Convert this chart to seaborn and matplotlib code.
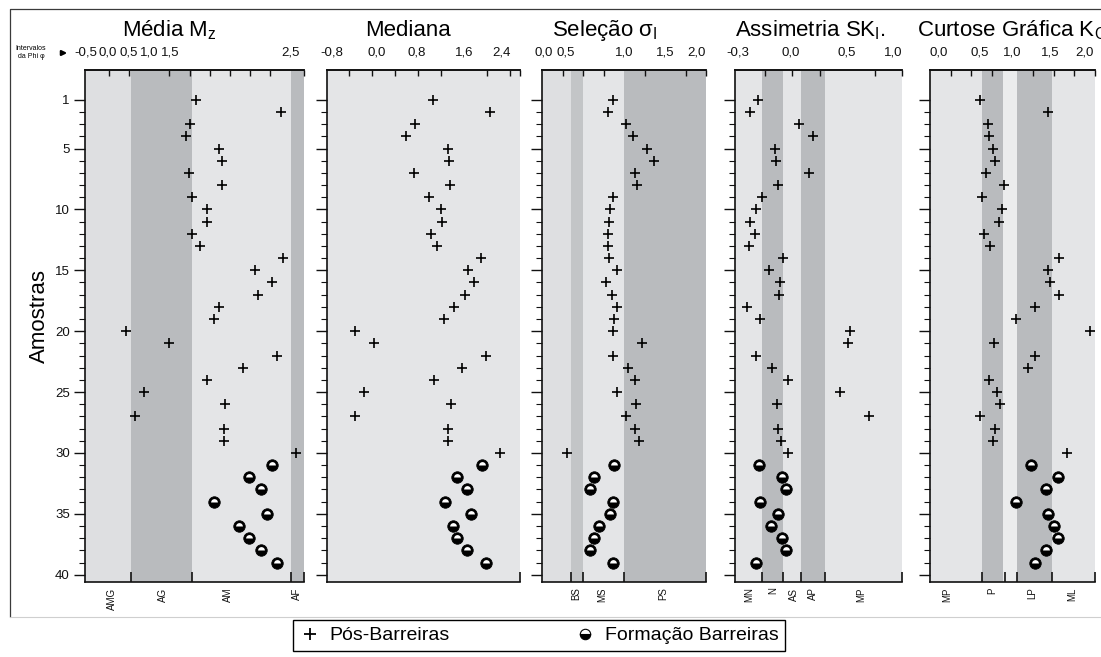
import matplotlib
matplotlib.use('Agg')
import matplotlib.pyplot as plt
from matplotlib.markers import MarkerStyle
from matplotlib.lines import Line2D
from matplotlib.patches import FancyArrowPatch
import seaborn as sns

# Sample numbers (y axis)
amostras_pos = list(range(1, 31))    # Pós-Barreiras
amostras_form = list(range(31, 40))  # Formação Barreiras

# Values, one list per panel
media_pos = [2.15, 4.27, 2.00, 1.90, 2.72, 2.80, 1.99, 2.79, 2.05, 2.43,
             2.43, 2.07, 2.25, 4.30, 3.62, 4.05, 3.70, 2.72, 2.60, 0.42,
             1.50, 4.17, 3.32, 2.43, 0.86, 2.88, 0.64, 2.84, 2.84, 4.62]
media_form = [4.03, 3.48, 3.77, 2.60, 3.91, 3.21, 3.48, 3.77, 4.16]

mediana_pos = [1.06, 2.05, 0.75, 0.60, 1.32, 1.35, 0.74, 1.36, 0.99, 1.20,
               1.22, 1.03, 1.13, 1.90, 1.67, 1.78, 1.62, 1.43, 1.26, -0.30,
               0.04, 1.99, 1.57, 1.08, -0.14, 1.38, -0.29, 1.33, 1.32, 2.24]
mediana_form = [1.91, 1.49, 1.65, 1.28, 1.72, 1.42, 1.49, 1.65, 1.99]

selecao_pos = [0.86, 0.81, 1.02, 1.11, 1.28, 1.36, 1.13, 1.16, 0.86, 0.83,
               0.82, 0.80, 0.80, 0.82, 0.91, 0.78, 0.85, 0.92, 0.88, 0.86,
               1.22, 0.87, 1.05, 1.13, 0.91, 1.15, 1.03, 1.13, 1.18, 0.30]
selecao_form = [0.88, 0.63, 0.59, 0.87, 0.83, 0.69, 0.63, 0.59, 0.87]

assimetria_pos = [-0.31, -0.38, 0.06, 0.19, -0.16, -0.15, 0.15, -0.13, -0.27, -0.33,
                  -0.38, -0.34, -0.39, -0.08, -0.21, -0.11, -0.12, -0.41, -0.29, 0.53,
                  0.51, -0.33, -0.18, -0.04, 0.44, -0.14, 0.70, -0.13, -0.10, -0.04]
assimetria_form = [-0.30, -0.09, -0.06, -0.29, -0.13, -0.19, -0.09, -0.06, -0.33]

curtose_pos = [0.60, 1.43, 0.70, 0.72, 0.76, 0.79, 0.68, 0.90, 0.63, 0.87,
               0.84, 0.66, 0.73, 1.56, 1.43, 1.46, 1.56, 1.27, 1.04, 1.94,
               0.77, 1.27, 1.19, 0.71, 0.81, 0.85, 0.61, 0.79, 0.76, 1.66]
curtose_form = [1.22, 1.55, 1.40, 1.04, 1.43, 1.50, 1.55, 1.40, 1.27]

# Class bands and labels
media_bands = [-0.59, 0.54, 2.05, 4.5, 4.83]
media_classes = ['AMG', 'AG', 'AM', 'AF']
selecao_bands = [0.0, 0.35, 0.5, 1.0, 2.0]
selecao_classes = ['BS', 'MS', 'PS']
assimetria_bands = [-0.52, -0.275, -0.085, 0.085, 0.295, 1.0]
assimetria_classes = ['MN', 'N', 'AS', 'AP', 'MP']
curtose_bands = [0.0, 0.63, 0.89, 1.06, 1.48, 2.0]
curtose_classes = ['MP', 'P', 'M', 'LP', 'ML']

LIGHT = '#e4e5e7'
LIGHT2 = '#dedfe1'
DARK = '#b9bbbe'
MID = '#c3c5c7'
PALE = '#ebeced'

sns.set_theme(style='ticks')
plt.rcParams['font.family'] = ['Liberation Sans', 'DejaVu Sans']
plt.rcParams['mathtext.fontset'] = 'custom'
plt.rcParams['mathtext.rm'] = 'Liberation Sans'
plt.rcParams['mathtext.it'] = 'Liberation Sans:italic'
plt.rcParams['text.color'] = 'black'
plt.rcParams['xtick.color'] = '#111111'
plt.rcParams['ytick.color'] = '#111111'

W, H = 1101, 657
TOP, BOTTOM = 70, 582
fig = plt.figure(figsize=(W / 100, H / 100), dpi=100)
fig.patch.set_facecolor('white')

panels = [
    dict(title=r'Média M$_\mathrm{z}$', tx=0.168, left=85, right=304,
         xlim=(-0.59, 4.83), pos=media_pos, form=media_form,
         bands=media_bands, colors=[LIGHT2, DARK, LIGHT, DARK],
         minor=[0, 0.5, 1, 1.5, 2, 2.5, 3, 3.5, 4, 4.5, 4.83],
         lab_pos=[-0.58, -0.04, 0.49, 1.0, 1.52, 4.5],
         lab_txt=['-0,5', '0,0', '0,5', '1,0', '1,5', '2,5'],
         bticks=[0.54, 2.05, 4.5, 4.83],
         cls_pos=[0.09, 1.35, 2.95, 4.66], cls_txt=media_classes),
    dict(title='Mediana', tx=0.197, left=327, right=520,
         xlim=(-0.78, 2.58), pos=mediana_pos, form=mediana_form,
         bands=[-0.78, 2.58], colors=[LIGHT],
         minor=[-0.4, 0, 0.4, 0.8, 1.2, 1.6, 2.0, 2.4, 2.58],
         lab_pos=[-0.70, 0.08, 0.79, 1.6, 2.26],
         lab_txt=['-0,8', '0,0', '0,8', '1,6', '2,4'],
         bticks=[2.58], cls_pos=[], cls_txt=[]),
    dict(title=r'Seleção σ$_\mathrm{I}$', tx=0.059, left=542, right=706,
         xlim=(0.0, 2.0), pos=selecao_pos, form=selecao_form,
         bands=selecao_bands, colors=[LIGHT2, MID, LIGHT, DARK],
         minor=[0.25, 0.5, 0.75, 1.0, 1.25, 1.5, 1.75, 2.0],
         lab_pos=[0.02, 0.29, 1.0, 1.5, 1.89],
         lab_txt=['0,0', '0,5', '1,0', '1,5', '2,0'],
         bticks=[0.35, 0.5, 1.0, 2.0],
         cls_pos=[0.42, 0.73, 1.48], cls_txt=selecao_classes),
    dict(title=r'Assimetria SK$_\mathrm{I}$.', tx=0.0, left=735, right=902,
         xlim=(-0.52, 1.0), pos=assimetria_pos, form=assimetria_form,
         bands=assimetria_bands, colors=[LIGHT, DARK, LIGHT, DARK, LIGHT],
         minor=[-0.25, 0, 0.25, 0.5, 0.75, 1.0],
         lab_pos=[-0.49, -0.015, 0.5, 0.92],
         lab_txt=['-0,3', '0,0', '0,5', '1,0'],
         bticks=[-0.275, -0.085, 0.085, 0.295, 1.0],
         cls_pos=[-0.39, -0.17, 0.015, 0.19, 0.63], cls_txt=assimetria_classes),
    dict(title=r'Curtose Gráfica K$_\mathrm{G}$', tx=-0.079, left=930, right=1095,
         xlim=(0.0, 2.0), pos=curtose_pos, form=curtose_form,
         bands=curtose_bands, colors=[LIGHT, DARK, PALE, DARK, LIGHT],
         minor=[0.25, 0.5, 0.75, 1.0, 1.25, 1.5, 1.75, 2.0],
         lab_pos=[0.11, 0.60, 1.0, 1.46, 1.87],
         lab_txt=['0,0', '0,5', '1,0', '1,5', '2,0'],
         bticks=[0.63, 0.91, 1.06, 1.48, 2.0],
         cls_pos=[0.21, 0.75, 0.91, 1.24, 1.73], cls_txt=curtose_classes),
]

half_top = MarkerStyle('o', fillstyle='top')

for i, p in enumerate(panels):
    l, r = p['left'], p['right']
    ax = fig.add_axes([l / W, 1 - BOTTOM / H, (r - l) / W, (BOTTOM - TOP) / H])
    b = p['bands']
    for a0, a1, c in zip(b[:-1], b[1:], p['colors']):
        ax.axvspan(a0, a1, color=c, lw=0, zorder=0)

    sns.scatterplot(x=p['pos'], y=amostras_pos, marker='+', color='black',
                    s=45, linewidth=1.2, ax=ax, zorder=3)
    sns.scatterplot(x=p['form'], y=amostras_form, marker='o', color='black',
                    edgecolor='black', s=68, linewidth=0.6, ax=ax, zorder=3)
    sns.scatterplot(x=p['form'], y=amostras_form, marker=half_top, color='white',
                    s=24, linewidth=0, ax=ax, zorder=4)

    ax.set_xlim(*p['xlim'])
    ax.set_ylim(40.6, -1.45)
    ax.set_xlabel('')
    ax.set_ylabel('')

    # y axis
    ax.set_yticks([1, 5, 10, 15, 20, 25, 30, 35, 40])
    ax.set_yticks(range(1, 41), minor=True)
    ax.tick_params(axis='y', which='major', direction='out', length=8, width=1.0,
                   pad=3, labelsize=9.5, labelleft=(i == 0))
    ax.tick_params(axis='y', which='minor', direction='out', length=4, width=0.8)

    # bottom: class boundaries and class names
    ax.set_xticks(p['bticks'])
    ax.set_xticks(p['cls_pos'], labels=p['cls_txt'], minor=True)
    ax.tick_params(axis='x', which='major', direction='in', length=7, width=1.2,
                   labelbottom=False, top=False)
    ax.tick_params(axis='x', which='minor', length=0, pad=4, labelsize=7,
                   labelrotation=90, top=False)

    # top: phi intervals
    sec = ax.secondary_xaxis('top')
    sec.set_xticks(p['lab_pos'], labels=p['lab_txt'])
    sec.set_xticks(p['minor'], minor=True)
    sec.tick_params(which='major', length=0, pad=8, labelsize=9.5)
    sec.tick_params(which='minor', direction='in', length=4, width=1.0)
    sec.spines['top'].set_linewidth(1.2)
    sec.spines['top'].set_color('#111111')

    ax.spines['right'].set_visible(False)
    for s in ['left', 'top', 'bottom']:
        ax.spines[s].set_linewidth(1.2)
        ax.spines[s].set_color('#111111')

    ax.text(p['tx'], 1 + 34 / (BOTTOM - TOP), p['title'], transform=ax.transAxes,
            ha='left', va='baseline', fontsize=16)

# outer frame
fig.add_artist(Line2D([10 / W, 10 / W, 1.0], [1 - 617 / H, 1 - 9 / H, 1 - 9 / H],
                      transform=fig.transFigure, color='#3a3a3a', lw=0.9))
fig.add_artist(Line2D([10 / W, 1.0], [1 - 617 / H, 1 - 617 / H],
                      transform=fig.transFigure, color='#cfcfcf', lw=0.8))

fig.text(39 / W, 1 - 316 / H, 'Amostras', rotation=90, ha='center', va='center',
         fontsize=16)
fig.text(31 / W, 1 - 52.5 / H, 'Intervalos\nda Phi φ', ha='center', va='center',
         fontsize=5, linespacing=1.1)
fig.add_artist(FancyArrowPatch((59 / W, 1 - 53 / H), (70 / W, 1 - 53 / H),
                               transform=fig.transFigure, arrowstyle='-|>',
                               mutation_scale=7, lw=1.6, color='black'))

# legend
h_pos = Line2D([], [], marker='+', color='black', linestyle='None',
               markersize=9, markeredgewidth=1.3)
h_form = Line2D([], [], marker='o', color='black', linestyle='None', markersize=7.5,
                markerfacecolor='black', markerfacecoloralt='white',
                fillstyle='bottom', markeredgewidth=0.8)
leg = fig.legend(handles=[h_pos, h_form], labels=['Pós-Barreiras', 'Formação Barreiras'],
                 loc='upper left', bbox_to_anchor=(293 / W, 1 - 620 / H), ncol=2,
                 frameon=True, fancybox=False, edgecolor='black', framealpha=1,
                 fontsize=14, handlelength=1.0, handletextpad=0.5,
                 columnspacing=6.5, borderpad=0.35, borderaxespad=0)
leg.get_frame().set_linewidth(1.0)

fig.savefig('out.png', dpi=100, facecolor='white')
